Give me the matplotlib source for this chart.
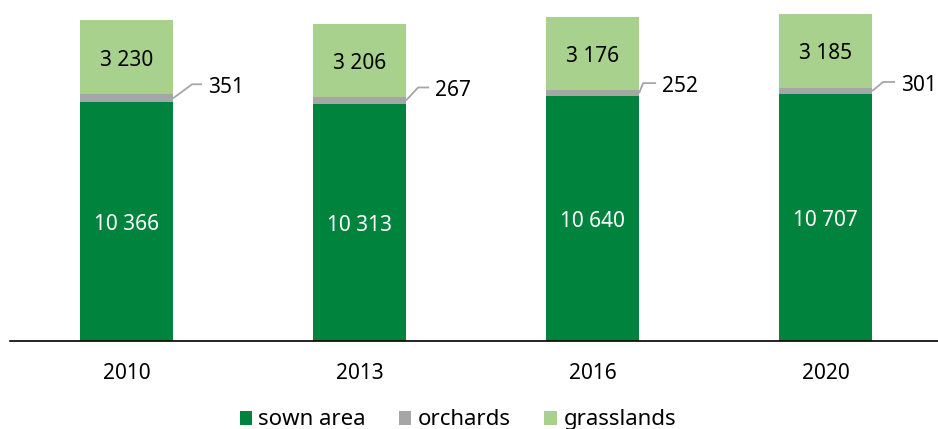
import numpy as np
import matplotlib.pyplot as plt

plt.rcParams['font.family'] = ['Noto Sans', 'DejaVu Sans']

years = ['2010', '2013', '2016', '2020']
sown = [10366, 10313, 10640, 10707]
orchards = [351, 267, 252, 301]
grass = [3230, 3206, 3176, 3185]

c_sown = '#00843D'
c_orch = '#A6A6A6'
c_grass = '#A9D18E'

# leader line shapes in pixels: diagonal dx, dy, horizontal length
lead_dx = [19, 12, 4, 11]
lead_dy = [14, 13, 10, 9]
lead_h = [10, 11, 13, 12]

def fmt(v):
    return '{:,}'.format(v).replace(',', ' ')

fig = plt.figure(figsize=(9.38, 4.29), dpi=100)
ax = fig.add_axes([10/938, 1-341/429, 932/938, 341/429])

x = np.arange(len(years))
w = 0.4
ymax = 14810
px_x = 4 / 932
px_y = ymax / 341
shift = 3 * px_y  # nudge labels down a little

sown_a = np.array(sown)
orch_a = np.array(orchards)
grass_a = np.array(grass)

ax.bar(x, sown_a, w, color=c_sown, label='sown area')
ax.bar(x, orch_a, w, bottom=sown_a, color=c_orch, label='orchards')
ax.bar(x, grass_a, w, bottom=sown_a+orch_a, color=c_grass, label='grasslands')

for i in range(len(years)):
    ax.text(x[i], sown_a[i]/2 - shift, fmt(sown[i]), ha='center', va='center',
            color='white', fontsize=15)
    ax.text(x[i], sown_a[i]+orch_a[i]+grass_a[i]/2 - shift, fmt(grass[i]),
            ha='center', va='center', color='black', fontsize=15)
    y0 = sown_a[i] + orch_a[i]/2
    x0 = x[i] + w/2
    x1 = x0 + lead_dx[i]*px_x
    y1 = y0 + lead_dy[i]*px_y
    x2 = x1 + lead_h[i]*px_x
    ax.plot([x0, x1, x2], [y0, y1, y1], color='#A6A6A6', lw=1.3,
            solid_capstyle='butt', clip_on=False)
    ax.text(x2 + 6*px_x, y1 - shift, fmt(orchards[i]), ha='left', va='center',
            color='black', fontsize=15)

ax.set_xlim(-0.5, 3.5)
ax.set_ylim(0, ymax)
ax.set_xticks(x)
ax.set_xticklabels(years, fontsize=15)
ax.tick_params(axis='x', length=0, pad=16)
ax.set_yticks([])
for s in ['top', 'right', 'left']:
    ax.spines[s].set_visible(False)
ax.spines['bottom'].set_linewidth(1.2)

fig.legend(loc='lower center', bbox_to_anchor=(0.488, -0.05), ncol=3,
           frameon=False, fontsize=16, handlelength=0.55, handleheight=0.6,
           handletextpad=0.3, columnspacing=1.5)

fig.savefig('out.png', dpi=100)
